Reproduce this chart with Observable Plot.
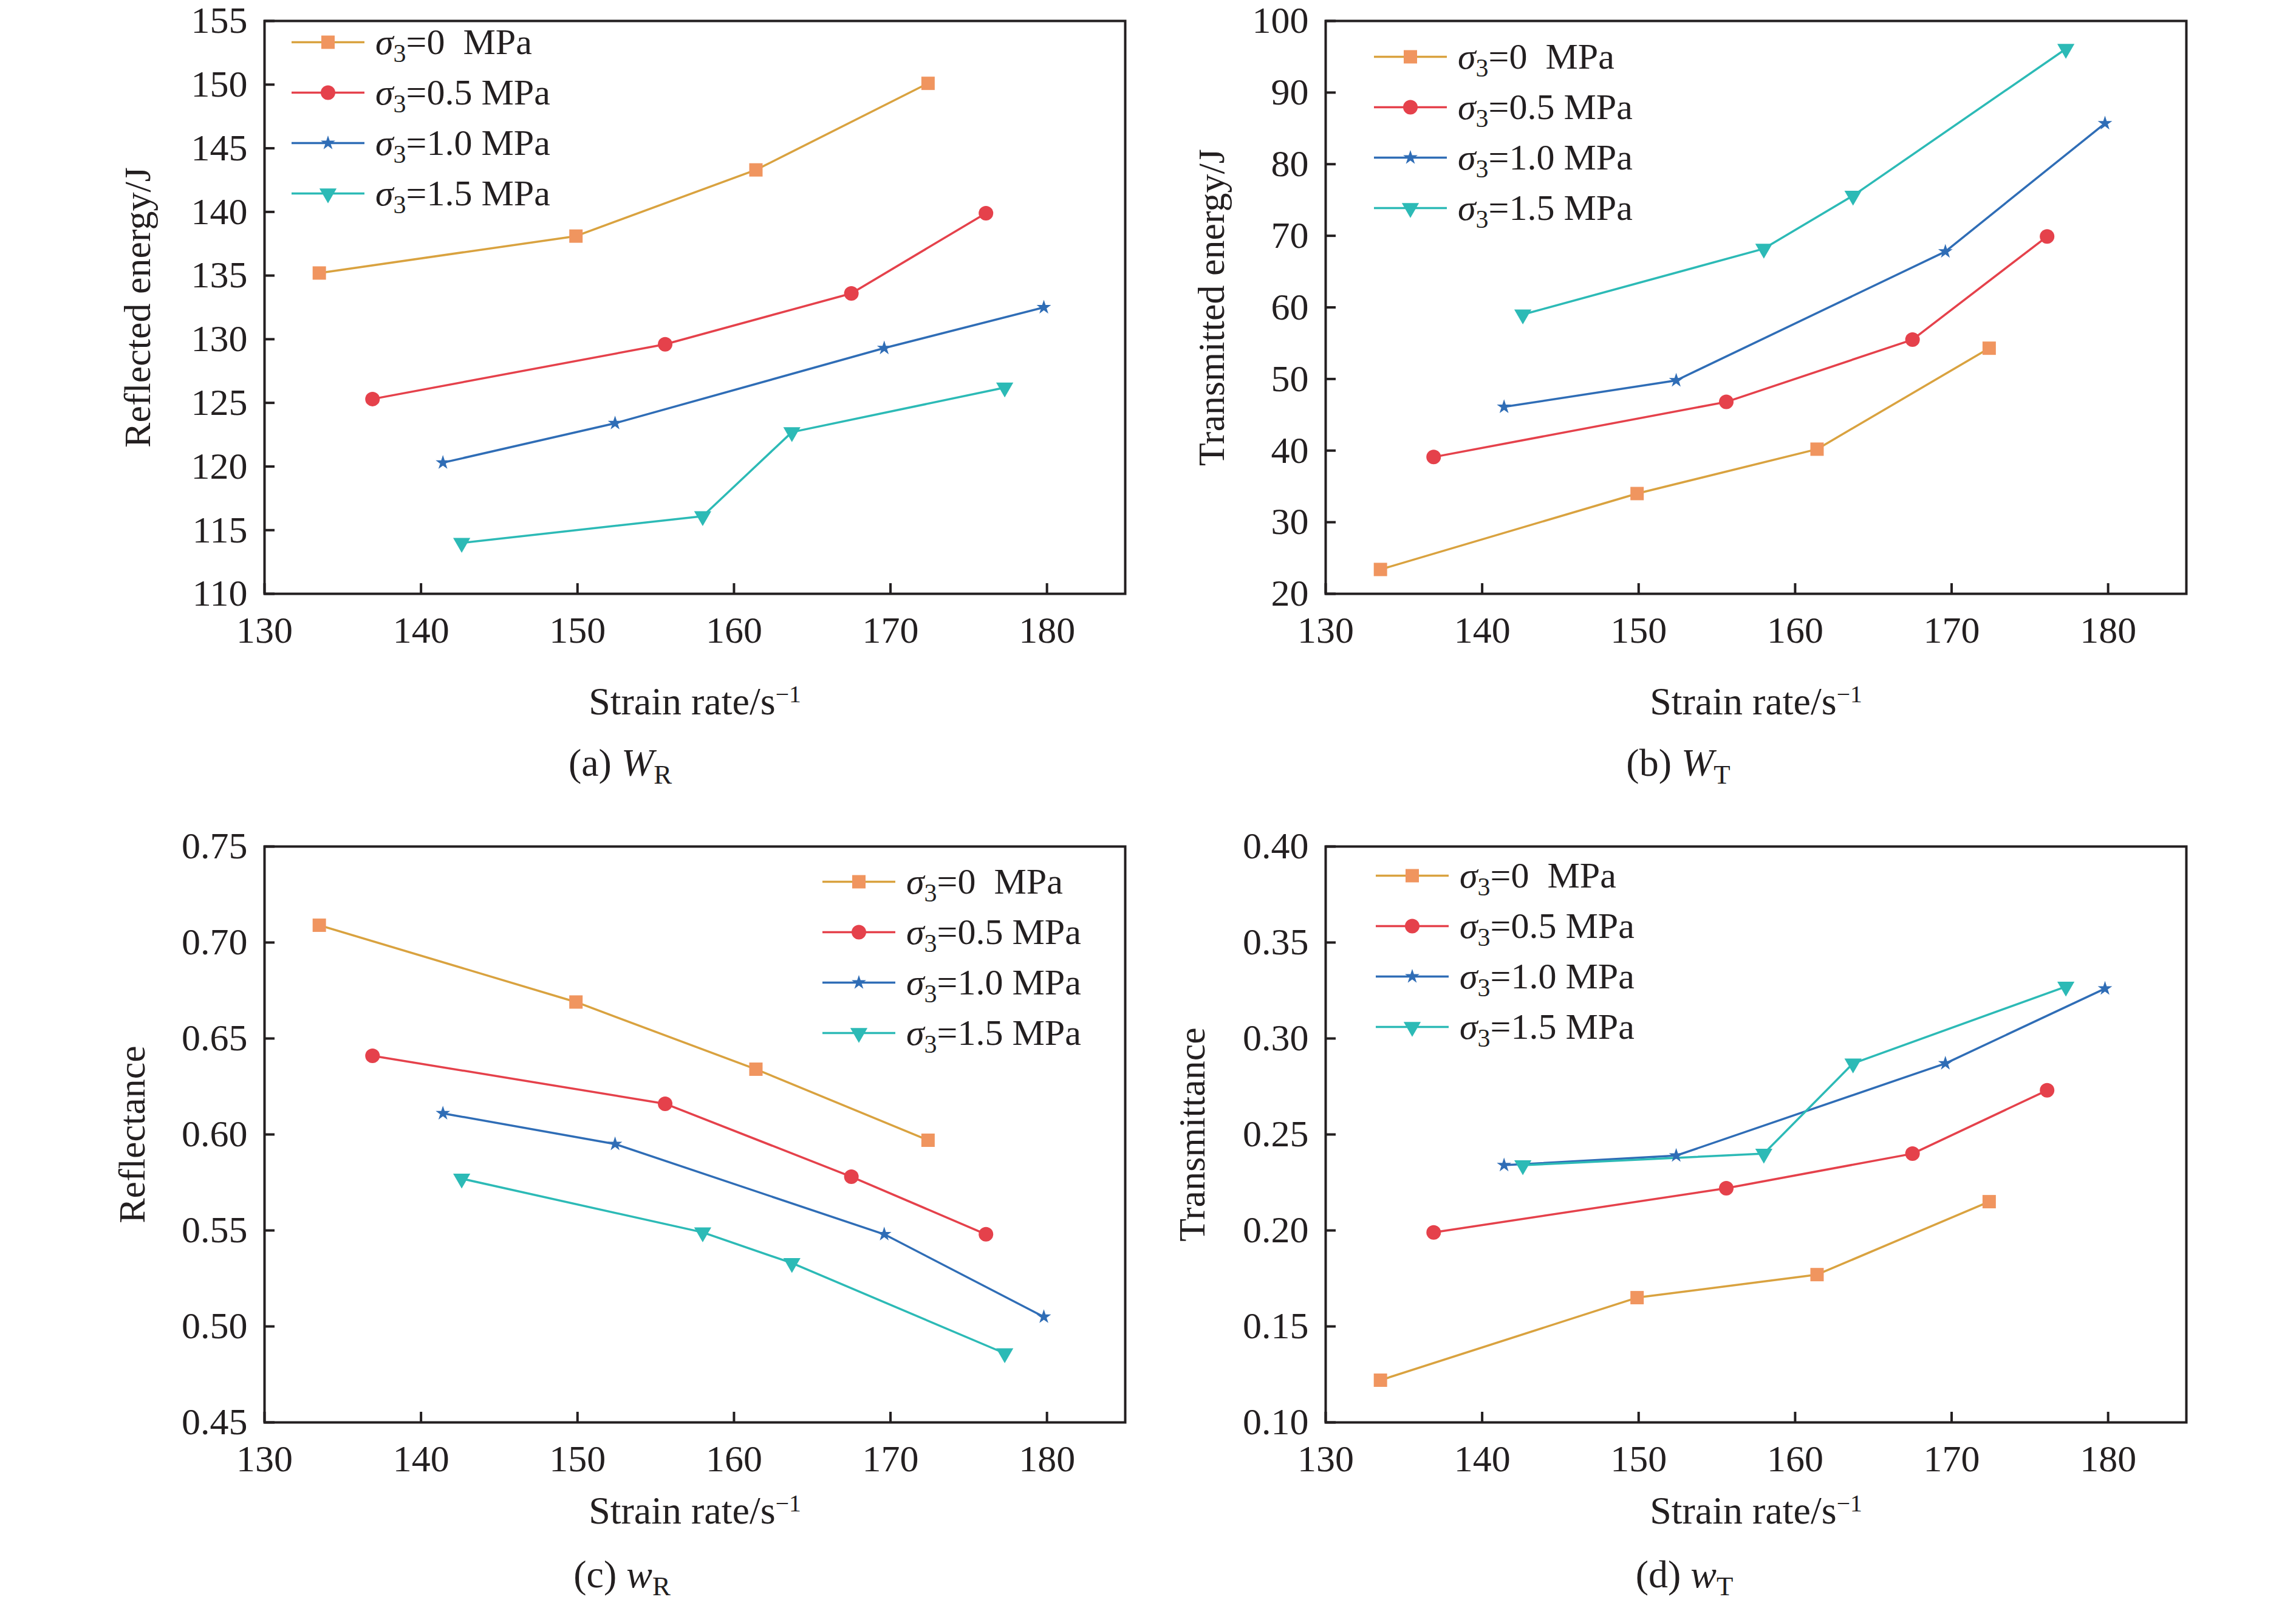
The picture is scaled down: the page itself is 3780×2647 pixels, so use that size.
<!DOCTYPE html>
<html><head><meta charset="utf-8">
<script src="https://cdn.jsdelivr.net/npm/d3@7"></script>
<script src="https://cdn.jsdelivr.net/npm/@observablehq/plot@0.6"></script>
<style>
html,body{margin:0;padding:0;background:#fff;}
#page{position:relative;width:3780px;height:2647px;overflow:hidden;font-family:"Liberation Serif","Times New Roman",serif;color:#231f20;background:#fff;}
.panel{position:absolute;width:1890px;}
.panel svg{display:block;font-family:"Liberation Serif","Times New Roman",serif !important;}
.panel svg text, .panel svg tspan, .panel svg g{font-family:"Liberation Serif","Times New Roman",serif !important;}
.legend{position:absolute;font-size:60px;}
.legend .row{position:absolute;left:0;height:83px;display:flex;align-items:center;white-space:nowrap;line-height:1;}
.legend .row svg{display:block;margin-right:18px;}
.caption{position:absolute;width:600px;text-align:center;font-size:64px;line-height:1;white-space:nowrap;}
.sub{position:relative;top:0.3em;font-size:0.7em;font-style:normal;}
</style></head><body><div id="page"></div>
<script>
// ---- data ----
const seriesLabels = ["0", "0.5", "1.0", "1.5"]; // sigma_3 in MPa
const strainRate = [
  [133.5, 149.9, 161.4, 172.4],
  [136.9, 155.6, 167.5, 176.1],
  [141.4, 152.4, 169.6, 179.8],
  [142.6, 158.0, 163.7, 177.3]
];
const reflectedEnergy = [
  [135.2, 138.1, 143.3, 150.1],
  [125.3, 129.6, 133.6, 139.9],
  [120.3, 123.4, 129.3, 132.5],
  [114.0, 116.1, 122.7, 126.2]
];
const transmittedEnergy = [
  [23.4, 34.0, 40.2, 54.3],
  [39.1, 46.8, 55.5, 69.9],
  [46.1, 49.8, 67.8, 85.7],
  [59.0, 68.2, 75.6, 96.1]
];
const reflectance = [
  [0.709, 0.669, 0.634, 0.597],
  [0.641, 0.616, 0.578, 0.548],
  [0.611, 0.595, 0.548, 0.505],
  [0.577, 0.549, 0.533, 0.486]
];
const transmittance = [
  [0.122, 0.165, 0.177, 0.215],
  [0.199, 0.222, 0.240, 0.273],
  [0.234, 0.239, 0.287, 0.326],
  [0.234, 0.240, 0.287, 0.327]
];
const xTicks = [130, 140, 150, 160, 170, 180];
const reflectedTicks = [110, 115, 120, 125, 130, 135, 140, 145, 150, 155];
const transmittedTicks = [20, 30, 40, 50, 60, 70, 80, 90, 100];
const reflectanceTicks = [0.45, 0.50, 0.55, 0.60, 0.65, 0.70, 0.75];
const transmittanceTicks = [0.10, 0.15, 0.20, 0.25, 0.30, 0.35, 0.40];

// ---- styles ----
const ink = "#231f20";
const serif = '"Liberation Serif","Times New Roman",serif';
const lineColors = ["#D9A23F", "#E5414B", "#2F6DB6", "#2CBAB6"];
const markerColors = ["#F0955F", "#E5414B", "#2F6DB6", "#2CBAB6"];
const triangleDown = {
  draw(ctx, size) {
    const s = Math.sqrt(size * 4 / Math.sqrt(3));
    const h = s * Math.sqrt(3) / 2;
    ctx.moveTo(-s / 2, -h / 3);
    ctx.lineTo(s / 2, -h / 3);
    ctx.lineTo(0, 2 * h / 3);
    ctx.closePath();
  }
};
const symbols = ["square", "circle", "star", triangleDown];
const d3symbols = [d3.symbolSquare, d3.symbolCircle, d3.symbolStar, triangleDown];
const radii = [12.4, 12, 7.5, 10.5];

const FW = 1417;
const panels = [
  {left: 0, top: 0, mt: 34, fh: 943, ml: 435, mb: 240, values: reflectedEnergy, yDomain: [110, 155], yTicks: reflectedTicks,
   yFormat: d3.format("d"), yTitle: "Reflected energy/J", yTitleDx: -189, xTitleDy: 198,
   legend: {dx: 45, dy: 35}, caption: '(a) <i>W</i><span class="sub">R</span>', capX: 1021, capBase: 1278},
  {left: 1890, top: 0, mt: 34, fh: 943, ml: 292, mb: 240, values: transmittedEnergy, yDomain: [20, 100], yTicks: transmittedTicks,
   yFormat: d3.format("d"), yTitle: "Transmitted energy/J", yTitleDx: -168, xTitleDy: 198,
   legend: {dx: 80, dy: 59}, caption: '(b) <i>W</i><span class="sub">T</span>', capX: 2763, capBase: 1278},
  {left: 0, top: 1330, mt: 63, fh: 948, ml: 435, mb: 200, values: reflectance, yDomain: [0.45, 0.75], yTicks: reflectanceTicks,
   yFormat: d3.format(".2f"), yTitle: "Reflectance", yTitleDx: -198, xTitleDy: 166,
   legend: {dx: 919, dy: 58}, caption: '(c) <i>w</i><span class="sub">R</span>', capX: 1024, capBase: 2614},
  {left: 1890, top: 1330, mt: 63, fh: 948, ml: 292, mb: 200, values: transmittance, yDomain: [0.10, 0.40], yTicks: transmittanceTicks,
   yFormat: d3.format(".2f"), yTitle: "Transmittance", yTitleDx: -200, xTitleDy: 166,
   legend: {dx: 83, dy: 48}, caption: '(d) <i>w</i><span class="sub">T</span>', capX: 2773, capBase: 2614}
];

const page = document.getElementById("page");

panels.forEach(p => {
  const marks = [];
  marks.push(Plot.tickX(xTicks, {x: d => d, stroke: ink, strokeWidth: 4, insetTop: p.fh - 17}));
  marks.push(Plot.tickY(p.yTicks, {y: d => d, stroke: ink, strokeWidth: 4, insetRight: FW - 17}));
  marks.push(Plot.axisX(xTicks, {tickSize: 0, tickPadding: 36, fontSize: 62, fontFamily: serif, label: null, tickFormat: d3.format("d"), fill: ink}));
  marks.push(Plot.axisY(p.yTicks, {tickSize: 0, tickPadding: 28, fontSize: 62, fontFamily: serif, label: null, tickFormat: p.yFormat, fill: ink}));
  seriesLabels.forEach((s, i) => {
    const rows = strainRate[i].map((x, j) => ({x, y: p.values[i][j]}));
    marks.push(Plot.line(rows, {x: "x", y: "y", stroke: lineColors[i], strokeWidth: 3.5, strokeLinejoin: "round"}));
  });
  seriesLabels.forEach((s, i) => {
    const rows = strainRate[i].map((x, j) => ({x, y: p.values[i][j]}));
    marks.push(Plot.dot(rows, {x: "x", y: "y", symbol: symbols[i], fill: markerColors[i], stroke: "none", r: radii[i]}));
  });
  marks.push(Plot.frame({stroke: ink, strokeWidth: 4}));
  marks.push(Plot.text([p.yTitle], {text: d => d, frameAnchor: "left", dx: p.yTitleDx, rotate: -90,
    lineAnchor: "bottom", textAnchor: "middle", fontSize: 62, fontFamily: serif, fill: ink}));
  marks.push(Plot.text(["Strain rate/s"], {text: d => d, frameAnchor: "bottom", dy: p.xTitleDy,
    lineAnchor: "bottom", textAnchor: "middle", fontSize: 64, fontFamily: serif, fill: ink}));

  const svg = Plot.plot({
    width: 1890,
    height: p.mt + p.fh + p.mb,
    marginLeft: p.ml,
    marginRight: 1890 - p.ml - FW,
    marginTop: p.mt,
    marginBottom: p.mb,
    x: {domain: [130, 185]},
    y: {domain: p.yDomain},
    style: `font-family: ${serif}; color: ${ink}; background: none; overflow: visible;`,
    marks
  });
  svg.setAttribute("font-family", serif);
  d3.select(svg).selectAll("text").filter(function () { return this.textContent === "Strain rate/s"; })
    .append("tspan").attr("dy", "-0.5em").attr("font-size", "0.62em").text("\u22121");

  const div = document.createElement("div");
  div.className = "panel";
  div.style.left = p.left + "px";
  div.style.top = p.top + "px";
  div.appendChild(svg);

  // legend
  const leg = document.createElement("div");
  leg.className = "legend";
  leg.style.left = (p.ml + p.legend.dx) + "px";
  leg.style.top = (p.mt + p.legend.dy - 41.5) + "px";
  seriesLabels.forEach((s, i) => {
    const row = document.createElement("div");
    row.className = "row";
    row.style.top = (i * 83) + "px";
    const sw = d3.create("svg").attr("width", 120).attr("height", 83);
    sw.append("line").attr("x1", 0).attr("x2", 120).attr("y1", 41.5).attr("y2", 41.5)
      .attr("stroke", lineColors[i]).attr("stroke-width", 3.5);
    sw.append("path").attr("transform", "translate(60,41.5)")
      .attr("d", d3.symbol(d3symbols[i], Math.PI * radii[i] * radii[i])())
      .attr("fill", markerColors[i]);
    row.appendChild(sw.node());
    const t = document.createElement("span");
    t.innerHTML = '<i>\u03c3</i><span class="sub">3</span>=' + s + (s === "0" ? "&nbsp;&nbsp;" : " ") + "MPa";
    row.appendChild(t);
    leg.appendChild(row);
  });
  div.appendChild(leg);
  page.appendChild(div);

  const cap = document.createElement("div");
  cap.className = "caption";
  cap.style.left = (p.capX - 300) + "px";
  cap.style.top = (p.capBase - 54) + "px";
  cap.innerHTML = p.caption;
  page.appendChild(cap);
});
</script></body></html>
